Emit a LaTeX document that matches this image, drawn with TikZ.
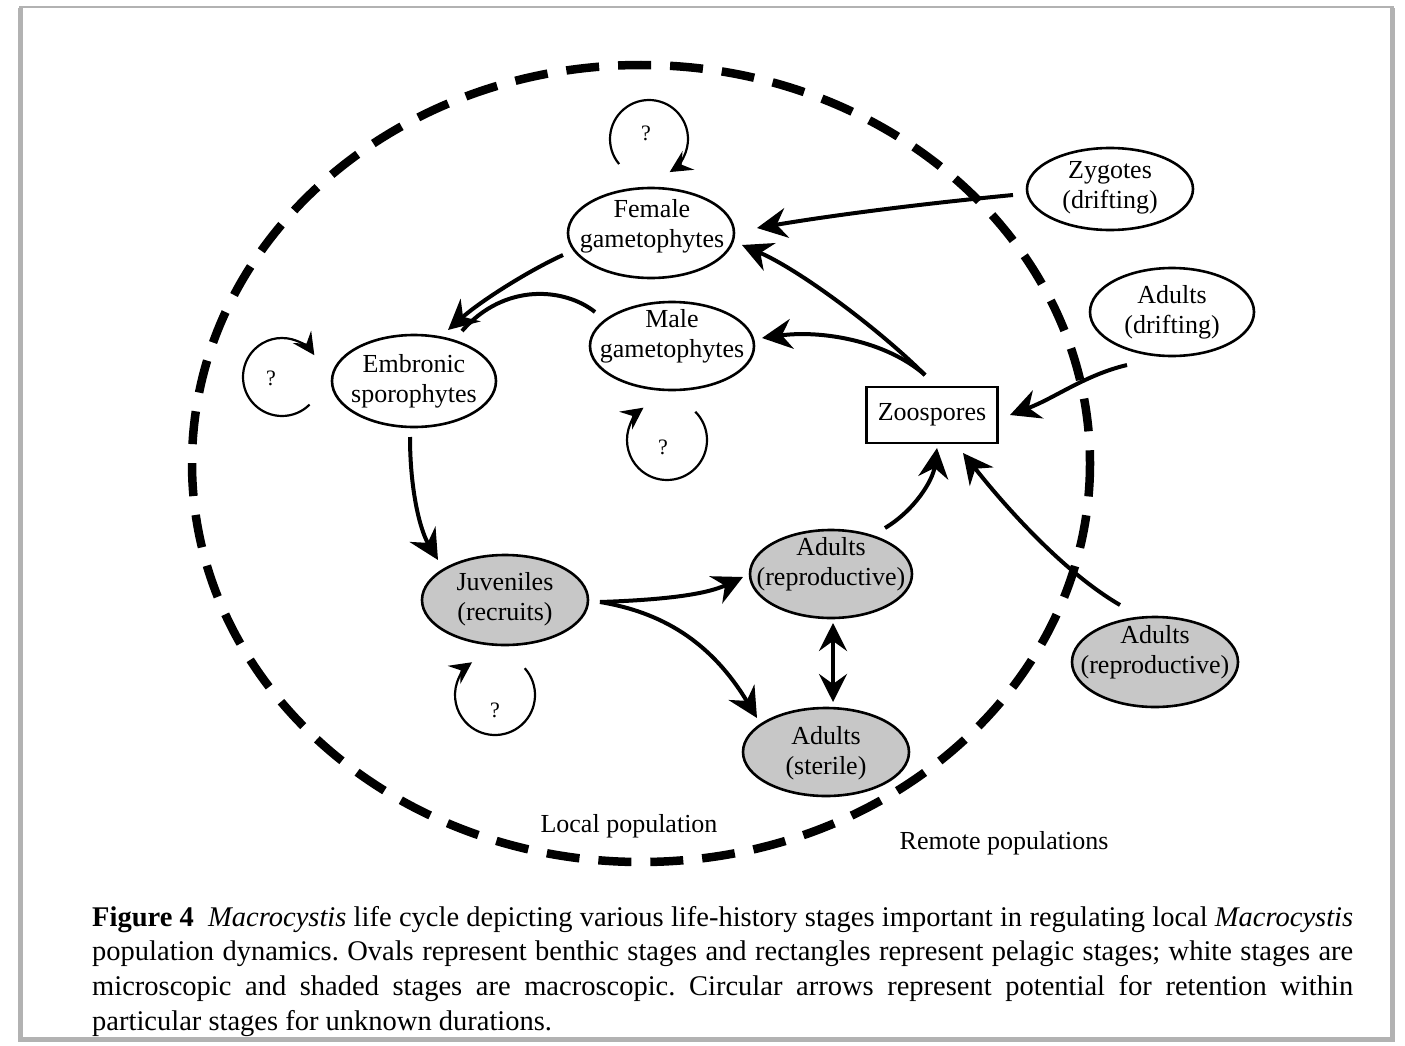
\documentclass[tikz,border=0pt]{standalone}
\usepackage{fontspec}
\setmainfont{Liberation Serif}
\usetikzlibrary{arrows.meta,calc}
\tikzset{
  txt/.style={align=center, font=\fontsize{26}{30}\selectfont, inner sep=0pt},
  qmark/.style={font=\fontsize{22}{24}\selectfont, inner sep=0pt},
  oval/.style={draw=black, line width=2.6pt, fill=white},
  shaded/.style={draw=black, line width=2.6pt, fill=black!22},
  conn/.style={line width=4pt, -{Stealth[length=30pt,width=30pt,inset=10pt]}},
  plainconn/.style={line width=4pt},
  dconn/.style={line width=4pt, {Stealth[length=28pt,width=28pt,inset=10pt]}-{Stealth[length=28pt,width=28pt,inset=10pt]}},
  loopline/.style={line width=2.2pt, -{Stealth[length=22pt,width=22pt,inset=8pt]}},
  popline/.style={line width=8.5pt, dash pattern=on 33pt off 19pt},
  framegray/.style={fill=black!30, draw=none}
}
\begin{document}
\begin{tikzpicture}[x=1pt,y=-1pt]
\useasboundingbox (0,0) rectangle (1405,1046);
% frame
\fill[white] (19,7) rectangle (1394,1041);
\draw[black!30, line width=1.5pt] (19,7) -- (1394,7);
\fill[framegray] (18,8) rectangle (23,1041);
\fill[framegray] (1390,8) rectangle (1395,1041);
\fill[framegray] (18,1037) rectangle (1395,1042);

% local population boundary
\draw[popline] (641,463.5) ellipse[x radius=449, y radius=398.5];

% ovals
\draw[oval] (651,233) ellipse[x radius=83, y radius=45];
\node[txt] (fem) at (652,226) {Female\\gametophytes};
\draw[oval] (672,346) ellipse[x radius=82, y radius=44];
\node[txt] (mal) at (672,336) {Male\\gametophytes};
\draw[oval] (414,381) ellipse[x radius=82, y radius=46];
\node[txt] (emb) at (414,381) {Embronic\\sporophytes};
\draw[oval] (1110,189) ellipse[x radius=83, y radius=41];
\node[txt] (zyg) at (1110,188) {Zygotes\\(drifting)};
\draw[oval] (1172,312) ellipse[x radius=82, y radius=44];
\node[txt] (adr) at (1172,312) {Adults\\(drifting)};
\node[txt, draw=black, line width=2.6pt, minimum width=131pt, minimum height=56pt, fill=white] (zoo) at (932,415) {Zoospores};
\draw[shaded] (505,600) ellipse[x radius=83, y radius=45];
\node[txt] (juv) at (505,599) {Juveniles\\(recruits)};
\draw[shaded] (831,574) ellipse[x radius=81, y radius=44];
\node[txt] (arep) at (831,564) {Adults\\(reproductive)};
\draw[shaded] (826,752) ellipse[x radius=83, y radius=44];
\node[txt] (ast) at (826,753) {Adults\\(sterile)};
\draw[shaded] (1155,662) ellipse[x radius=83, y radius=45];
\node[txt] (rrep) at (1155,652) {Adults\\(reproductive)};

% labels
\node[txt] (lpop) at (629,826) {Local population};
\node[txt] (rpop) at (1004,843) {Remote populations};

% self loops
\node[qmark] (q1) at (646,133) {?};
\draw[loopline] ($(q1)+(3,6)$) ++(140:39) arc[start angle=140, end angle=418, radius=39];
\node[qmark] (q2) at (271,378) {?};
\draw[loopline] ($(q2)+(11,-1)$) ++(45:39) arc[start angle=45, end angle=326, radius=39];
\node[qmark] (q3) at (663,447) {?};
\draw[loopline] ($(q3)+(4,-7)$) ++(315:40) arc[start angle=315, end angle=594, radius=40];
\node[qmark] (q4) at (495,710) {?};
\draw[loopline] ($(q4)+(0,-15)$) ++(318:40) arc[start angle=318, end angle=595, radius=40];

% connectors
\draw[plainconn] ($(mal)+(-77,-24)$) .. controls (565,288) and (505,282) .. ($(emb)+(48,-50)$);
\draw[conn] ($(fem)+(-89,29)$) .. controls (530,270) and (482,300) .. ($(emb)+(34,-51)$);
\draw[conn] ($(zyg)+(-97,7)$) .. controls (930,203) and (840,214) .. ($(fem)+(105,2)$);
\draw[conn] ($(zoo)+(-7,-40)$) .. controls (880,330) and (800,270) .. ($(fem)+(90,19)$);
\draw[conn] ($(zoo)+(-7,-40)$) .. controls (885,340) and (820,330) .. ($(mal)+(90,2)$);
\draw[conn] ($(adr)+(-45,53)$) .. controls (1085,375) and (1055,398) .. ($(zoo)+(78,0)$);
\draw[conn] ($(emb)+(-4,56)$) .. controls (410,490) and (420,530) .. ($(juv)+(-67,-39)$);
\draw[conn] ($(juv)+(95,3)$) .. controls (660,600) and (705,595) .. ($(arep)+(-88,13)$);
\draw[conn] ($(juv)+(95,3)$) .. controls (660,612) and (710,640) .. ($(ast)+(-69,-35)$);
\draw[dconn] ($(arep)+(2,59)$) -- ($(ast)+(7,-51)$);
\draw[conn] ($(arep)+(54,-36)$) .. controls (915,510) and (933,480) .. ($(zoo)+(5,33)$);
\draw[conn] ($(rrep)+(-35,-47)$) .. controls (1060,570) and (1000,500) .. ($(zoo)+(31,38)$);

% caption
\node[anchor=north west, inner sep=0pt, text width=1261pt, align=justify,
      font=\fontsize{28.5}{34.7}\selectfont\frenchspacing] (cap) at (92,906)
{\textbf{Figure 4}\enspace\textit{Macrocystis} life cycle depicting various life-history stages important in regulating local \textit{Macrocystis}\linebreak
population dynamics. Ovals represent benthic stages and rectangles represent pelagic stages; white stages are\linebreak
microscopic and shaded stages are macroscopic. Circular arrows represent potential for retention within\linebreak
particular stages for unknown durations.};
\end{tikzpicture}
\end{document}
